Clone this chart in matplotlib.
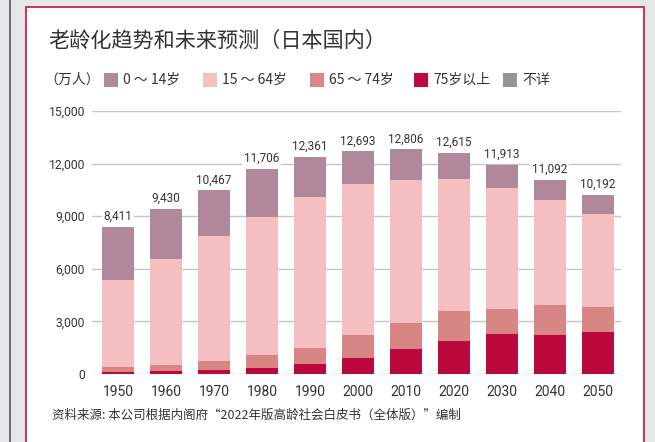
import matplotlib
matplotlib.use("Agg")
import matplotlib.pyplot as plt
from matplotlib.patches import Rectangle
from matplotlib.lines import Line2D
import numpy as np

CJK = ["Noto Sans CJK SC", "DejaVu Sans"]
NUM = ["Roboto", "DejaVu Sans"]

years = ["1950", "1960", "1970", "1980", "1990", "2000", "2010", "2020", "2030", "2040", "2050"]
totals = [8411, 9430, 10467, 11706, 12361, 12693, 12806, 12615, 11913, 11092, 10192]
age_75_plus = [107, 163, 224, 366, 597, 901, 1419, 1860, 2288, 2239, 2417]
age_65_74 = [309, 373, 516, 699, 892, 1301, 1517, 1742, 1428, 1681, 1424]
age_15_64 = [4966, 6047, 7157, 7884, 8590, 8622, 8103, 7509, 6875, 5978, 5275]
age_0_14 = [3029, 2847, 2570, 2751, 2249, 1847, 1680, 1503, 1321, 1194, 1077]
age_unknown = [0, 0, 0, 0, 33, 22, 87, 0, 0, 0, 0]

series = [
    ("75岁以上", age_75_plus, "#bc083c"),
    ("65 ～ 74岁", age_65_74, "#d88585"),
    ("15 ～ 64岁", age_15_64, "#f5bec0"),
    ("0 ～ 14岁", age_0_14, "#b08899"),
    ("不详", age_unknown, "#949598"),
]
legend_order = ["0 ～ 14岁", "15 ～ 64岁", "65 ～ 74岁", "75岁以上", "不详"]
legend_x = [104, 203, 310, 414, 503]  # pixel left edge of each legend square

W, H = 655, 442
fig = plt.figure(figsize=(W / 100, H / 100), dpi=100, facecolor="#e6e7e9")

# white panel with crimson border, behind everything
fig.add_artist(Rectangle((26 / W, -0.1), 618 / W, 1.1 - 7.5 / H, transform=fig.transFigure,
                         facecolor="white", edgecolor="#cc1f55", lw=1.3, zorder=-10))
fig.add_artist(Line2D([10 / W, 10 / W], [0, 1], transform=fig.transFigure,
                      color="#55575a", lw=1.2, zorder=-10))

ax = fig.add_axes([92 / W, 1 - 374 / H, 529 / W, 263 / H])
ax.set_facecolor("none")

x = np.arange(len(years))
bottom = np.zeros(len(years))
colors = {}
for label, vals, color in series:
    ax.bar(x, vals, width=0.65, bottom=bottom, color=color, zorder=3, label=label)
    colors[label] = color
    bottom += np.array(vals)

for xi, t in zip(x, totals):
    ax.annotate(f"{t:,}", (xi, t), xytext=(0, 3), textcoords="offset points",
                ha="center", va="bottom", fontsize=8.5, family=NUM, color="#333333",
                bbox=dict(boxstyle="square,pad=0.15", fc="white", ec="none"), zorder=4)

ax.set_xlim(-0.54, 10.48)
ax.set_ylim(0, 15000)
ax.set_yticks(range(0, 15001, 3000))
ax.set_yticklabels([f"{v:,}" for v in range(0, 15001, 3000)], family=NUM, fontsize=8.7, color="#333333")
ax.set_xticks(x)
ax.set_xticklabels(years, family=NUM, fontsize=10, color="#333333")
ax.tick_params(axis="both", length=0)
ax.tick_params(axis="y", pad=5)
ax.tick_params(axis="x", pad=8)
ax.grid(axis="y", color="#c4c4c4", lw=1, zorder=0)
for s in ax.spines.values():
    s.set_visible(False)

fig.text(48 / W, 1 - 41 / H, "老龄化趋势和未来预测（日本国内）", family=CJK, fontsize=15.2,
         color="#333333", va="center", ha="left")
fig.text(44 / W, 1 - 80 / H, "（万人）", family=CJK, fontsize=10, color="#333333",
         va="center", ha="left")

# legend squares + labels
for lx, lab in zip(legend_x, legend_order):
    fig.add_artist(Rectangle((lx / W, 1 - 87 / H), 14 / W, 14 / H, transform=fig.transFigure,
                             facecolor=colors[lab], edgecolor="none"))
    fig.text((lx + 19) / W, 1 - 80 / H, lab, family=CJK, fontsize=10, color="#333333",
             va="center", ha="left")

fig.text(52 / W, 1 - 415 / H, "资料来源: 本公司根据内阁府“2022年版高龄社会白皮书（全体版）”编制",
         family=CJK, fontsize=9, color="#333333", va="center", ha="left")

fig.savefig("out.png", dpi=100, facecolor=fig.get_facecolor())
